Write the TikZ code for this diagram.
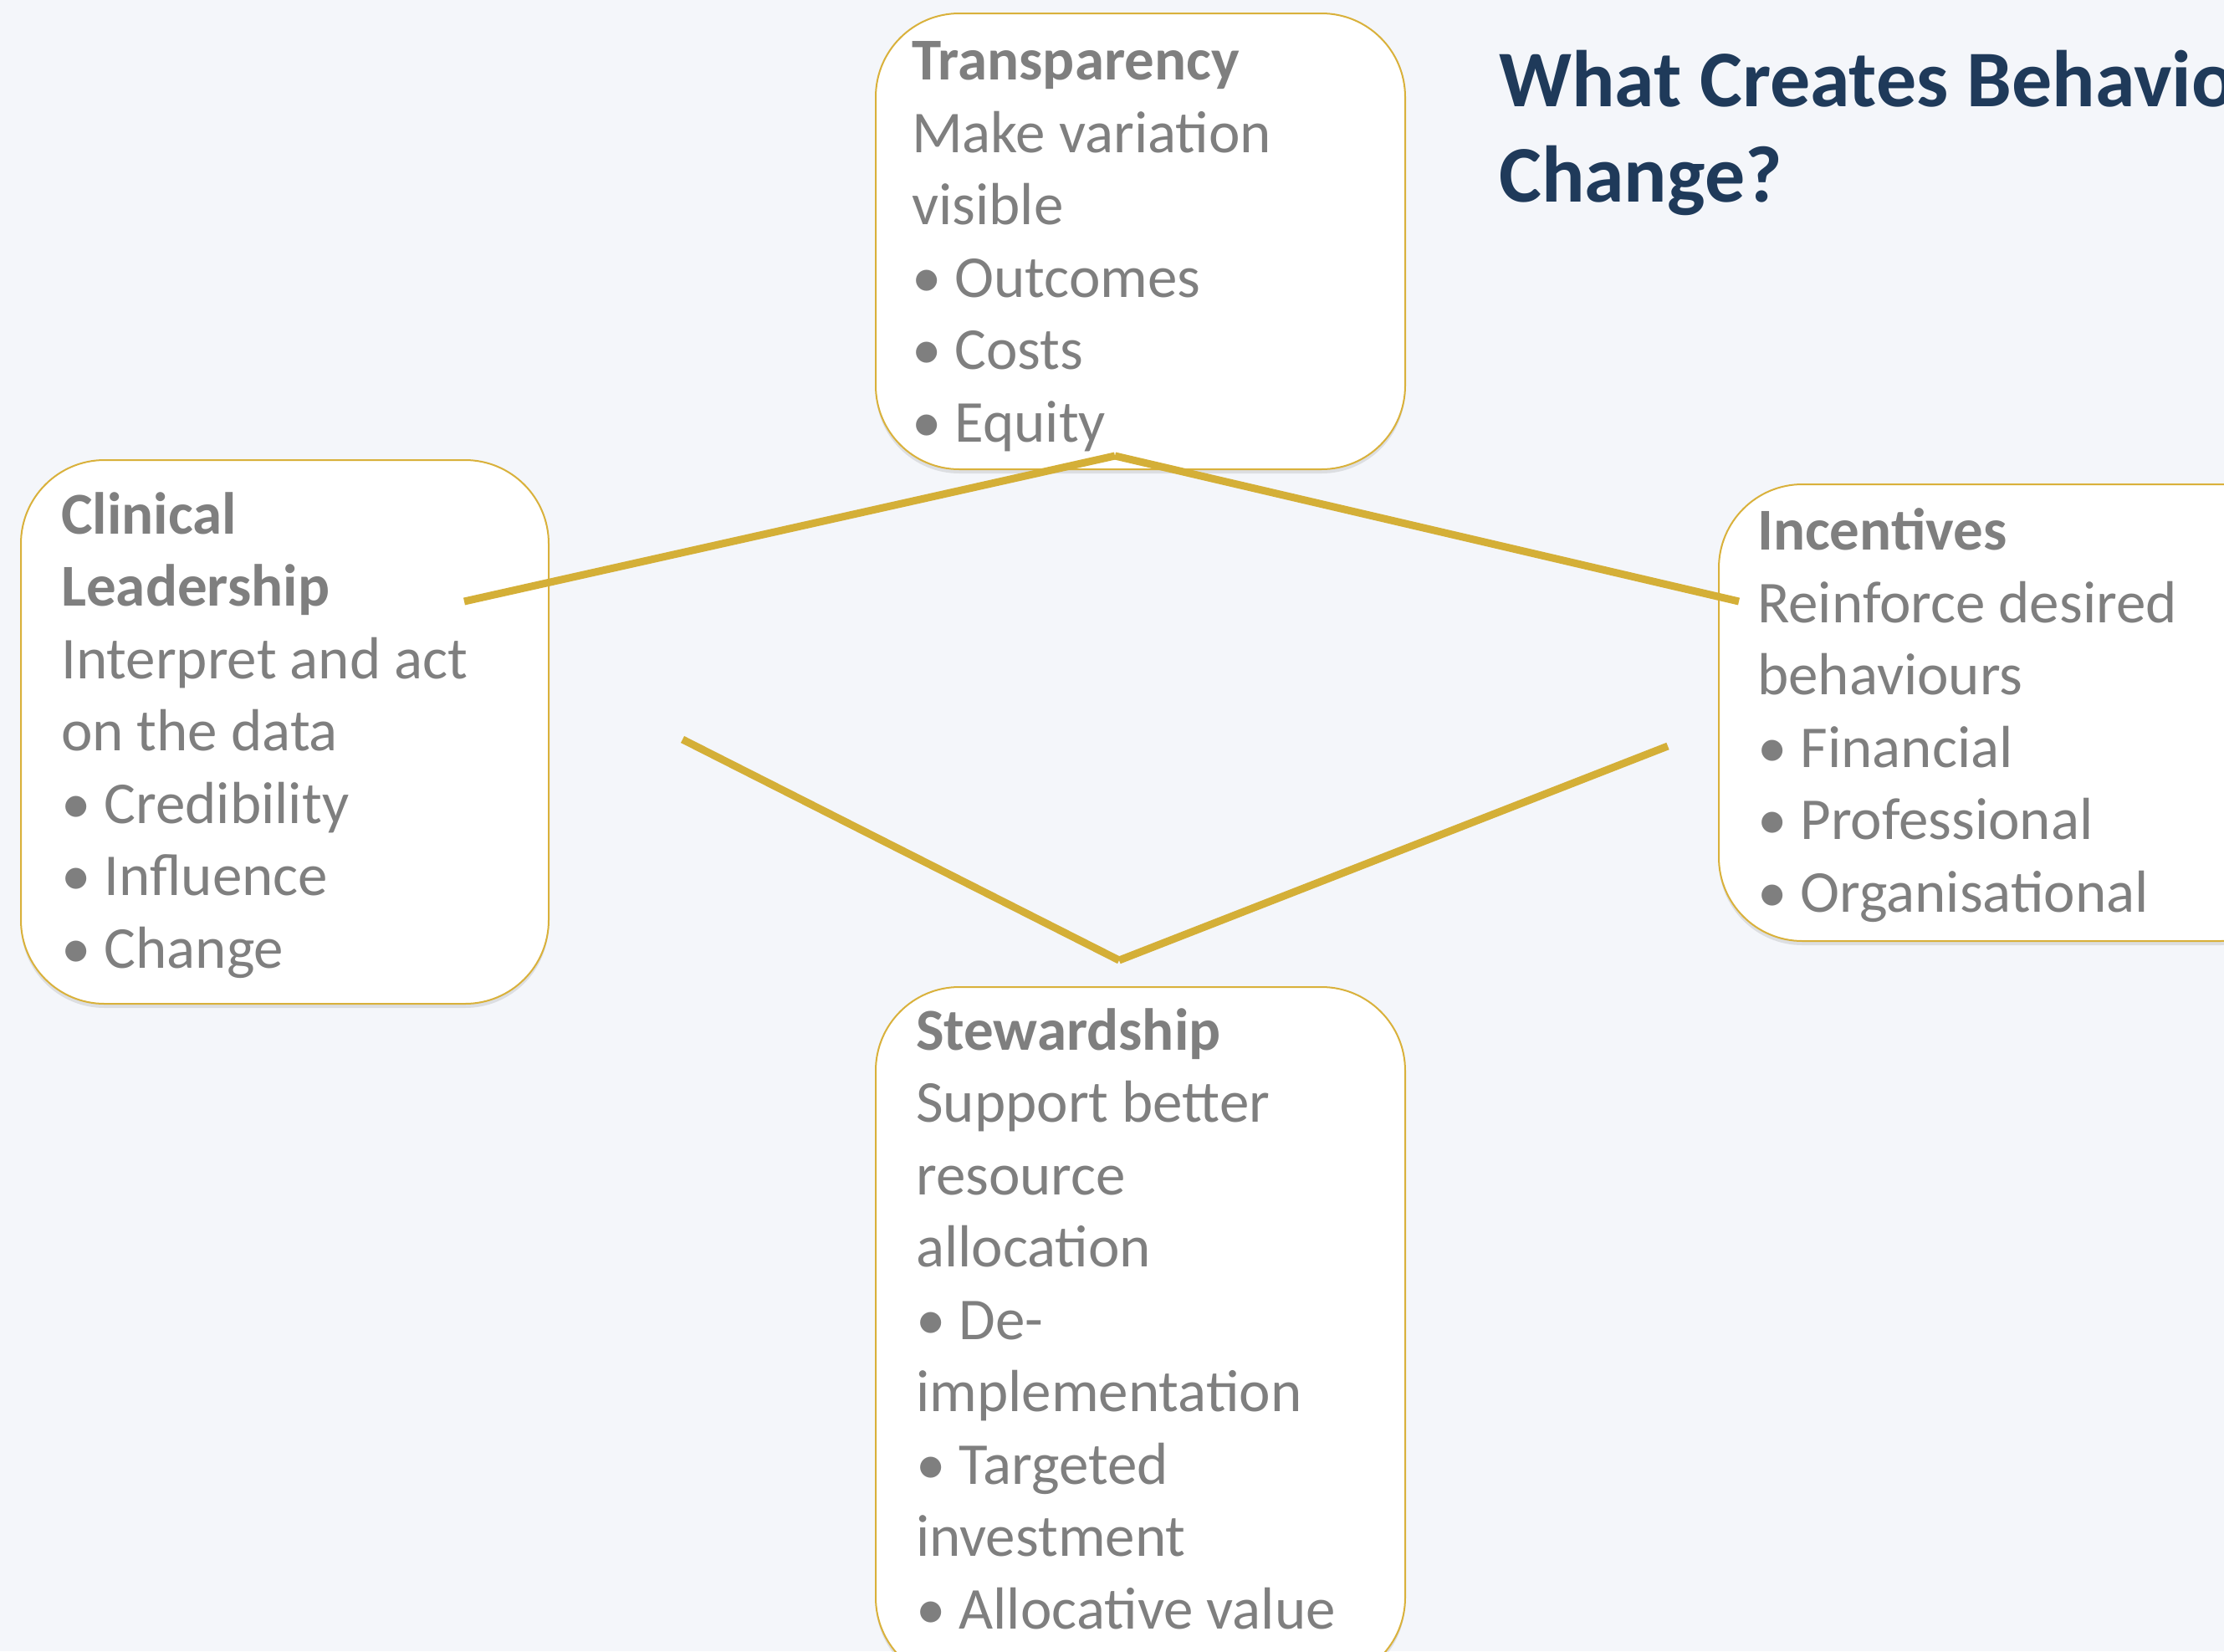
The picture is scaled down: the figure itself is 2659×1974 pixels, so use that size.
\documentclass[tikz,border=0pt]{standalone}
\usepackage{fontspec}
\setmainfont{Carlito}
\usetikzlibrary{shadows}
\definecolor{bgcol}{HTML}{F4F6FA}
\definecolor{goldcol}{HTML}{D4AF37}
\definecolor{edgecol}{HTML}{D9B13B}
\definecolor{textcol}{HTML}{7F7F7F}
\definecolor{titlecol}{HTML}{1F3A5A}
\begin{document}
\begin{tikzpicture}[x = 1pt, y = -1pt]
	\tikzstyle{cardStyle} = [draw = edgecol, line width = 2pt, fill = white, rounded corners = 100pt, anchor = north west, inner sep = 0pt, drop shadow = {opacity = 0.2, shadow xshift = 0pt, shadow yshift = -5pt}]
	\tikzstyle{textStyle} = [anchor = base west, align = left, inner sep = 0pt, text = textcol, font = \fontsize{71}{86.5}\selectfont]
	\tikzstyle{linkStyle} = [draw = goldcol, line width = 9pt]
	\useasboundingbox (0,0) rectangle (2659,1974);
	\clip (0,0) rectangle (2659,1974);
	\fill[bgcol] (0,0) rectangle (2659,1974);
	% boxes
	\node[cardStyle, minimum width = 633pt, minimum height = 545pt] (transp) at (1046,15) {};
	\node[cardStyle, minimum width = 631pt, minimum height = 650pt] (clinical) at (24,549) {};
	\node[cardStyle, minimum width = 700pt, minimum height = 546pt] (incent) at (2054,578) {};
	\node[cardStyle, minimum width = 633pt, minimum height = 830pt] (steward) at (1046,1179) {};
	% texts (placed at the baseline of their last line)
	\node[textStyle] (transpText) at (1090,528) {\textbf{Transparency}\\Make variation\\visible\\• Outcomes\\• Costs\\• Equity};
	\node[textStyle] (clinicalText) at (73,1157) {\textbf{Clinical}\\\textbf{Leadership}\\Interpret and act\\on the data\\• Credibility\\• Influence\\• Change};
	\node[textStyle] (incentText) at (2101,1090) {\textbf{Incentives}\\Reinforce desired\\behaviours\\• Financial\\• Professional\\• Organisational};
	\node[textStyle] (stewardText) at (1095,1947) {\textbf{Stewardship}\\Support better\\resource\\allocation\\• De-\\implementation\\• Targeted\\investment\\• Allocative value};
	\node[anchor = base west, align = left, inner sep = 0pt, text = titlecol, font = \fontsize{96}{114}\selectfont\bfseries] (title) at (1792,241) {What Creates Behaviour\\Change?};
	% links
	\coordinate (topTip) at (1333,545);
	\coordinate (botTip) at (1338,1148);
	\coordinate (clinEnd) at (555,719);
	\coordinate (incEnd) at (2079,719);
	\coordinate (clinLow) at (816,884);
	\coordinate (incLow) at (1994,892);
	\draw[linkStyle] (clinEnd) -- (topTip);
	\draw[linkStyle] (topTip) -- (incEnd);
	\draw[linkStyle] (clinLow) -- (botTip);
	\draw[linkStyle] (botTip) -- (incLow);
\end{tikzpicture}
\end{document}
